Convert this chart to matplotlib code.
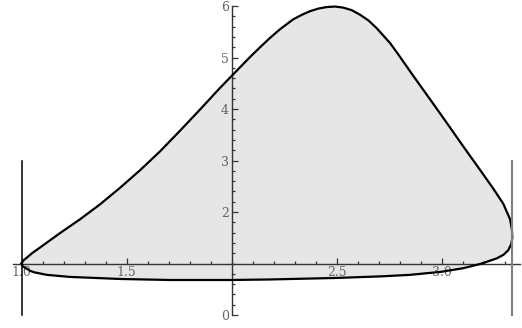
import numpy as np
import matplotlib
matplotlib.use("Agg")
import matplotlib.pyplot as plt
from matplotlib.ticker import FixedLocator

# closed curve (upper branch left->right, then lower back)
upper_x = [1.0, 1.005, 1.015, 1.03, 1.05, 1.088, 1.183, 1.279, 1.374, 1.469, 1.564,
           1.660, 1.755, 1.850, 1.945, 2.0, 2.088, 2.136, 2.183, 2.231, 2.293,
           2.335, 2.374, 2.413, 2.453, 2.492, 2.531, 2.572, 2.612, 2.652, 2.691,
           2.755, 2.794, 2.866, 2.945, 3.025, 3.104, 3.183, 3.247, 3.294, 3.326,
           3.335, 3.337]
upper_y = [1.0, 1.04, 1.08, 1.13, 1.20, 1.31, 1.59, 1.86, 2.15, 2.47, 2.81,
           3.18, 3.58, 3.99, 4.41, 4.64, 5.01, 5.20, 5.38, 5.55, 5.74,
           5.83, 5.90, 5.95, 5.98, 5.99, 5.97, 5.92, 5.83, 5.72, 5.57,
           5.28, 5.06, 4.64, 4.19, 3.73, 3.27, 2.82, 2.45, 2.16, 1.86,
           1.66, 1.50]
lower_x = [3.332, 3.318, 3.295, 3.263, 3.183, 3.104, 3.0, 2.85, 2.707, 2.5, 2.18,
           1.993, 1.707, 1.469, 1.23, 1.12, 1.06, 1.04, 1.02, 1.005, 1.0]
lower_y = [1.38, 1.26, 1.17, 1.10, 0.99, 0.91, 0.84, 0.78, 0.75, 0.72, 0.69,
           0.68, 0.68, 0.70, 0.74, 0.78, 0.83, 0.86, 0.91, 0.95, 1.0]

x_labels = {1.0: "1.0", 1.5: "1.5", 2.5: "2.5", 3.0: "3.0"}
y_labels = {0: "0", 2: "2", 3: "3", 4: "4", 5: "5", 6: "6"}

x_left_line = 1.0
x_right_line = 3.337
line_y = [0.0, 3.0]

xs = upper_x + lower_x
ys = upper_y + lower_y

fig = plt.figure(figsize=(5.22, 3.28), dpi=100)
ax = fig.add_axes([0, 0, 1, 1])
ax.set_xlim(0.8976, 3.383)
ax.set_ylim(-0.252, 6.117)

ax.fill(xs, ys, color="#e6e6e6", zorder=1, lw=0)
ax.plot(xs, ys, color="black", lw=1.6, zorder=4, solid_joinstyle="round")

ax.plot([x_left_line, x_left_line], line_y, color="black", lw=1.1, zorder=5)
ax.plot([x_right_line, x_right_line], line_y, color="#808080", lw=1.5, zorder=5)

# axes cross at (2, 1)
for s in ["top", "right"]:
    ax.spines[s].set_visible(False)
ax.spines["left"].set_position(("data", 2))
ax.spines["bottom"].set_position(("data", 1))
ax.spines["left"].set_bounds(0, 6)
ax.spines["bottom"].set_bounds(0.96, 3.374)
for s in ["left", "bottom"]:
    ax.spines[s].set_color("#333333")
    ax.spines[s].set_linewidth(1.0)
    ax.spines[s].set_zorder(3)

ax.xaxis.set_major_locator(FixedLocator(list(x_labels.keys())))
ax.set_xticklabels(list(x_labels.values()))
ax.xaxis.set_minor_locator(FixedLocator(np.round(np.arange(1.0, 3.31, 0.1), 2)))
ax.yaxis.set_major_locator(FixedLocator(list(y_labels.keys())))
ax.set_yticklabels(list(y_labels.values()))
ax.yaxis.set_minor_locator(FixedLocator(np.round(np.arange(0, 6.01, 0.2), 2)))

ax.tick_params(which="both", direction="in", color="#333333", width=0.9,
               labelsize=9, labelcolor="#666666", pad=2)
ax.tick_params(which="major", length=4)
ax.tick_params(which="minor", length=2.2)
for lab in ax.get_xticklabels() + ax.get_yticklabels():
    lab.set_family("DejaVu Serif")

ax.patch.set_visible(False)
fig.savefig("out.png", dpi=100)
